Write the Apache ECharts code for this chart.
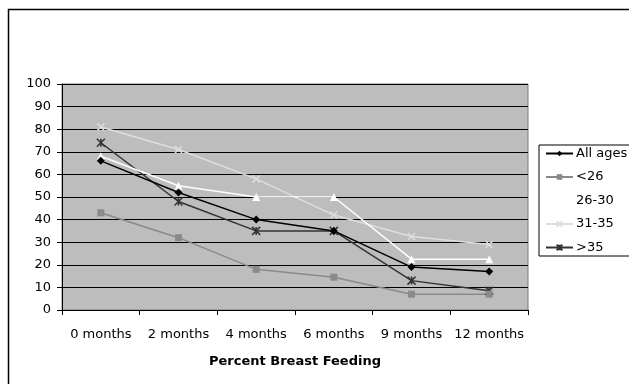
<!DOCTYPE html>
<html>
<head>
<meta charset="utf-8">
<script src="https://cdn.jsdelivr.net/npm/echarts@6/dist/echarts.min.js"></script>
<style>
  html, body { margin: 0; padding: 0; background: #fff; }
  #chart { width: 629px; height: 384px; }
</style>
</head>
<body>
<div id="chart"></div>
<script>
// data
var months = ['0 months', '2 months', '4 months', '6 months', '9 months', '12 months'];
var allAges = [66, 52, 40, 35, 19, 17];
var under26 = [43, 32, 18, 14.5, 7, 7];
var age26to30 = [68, 55, 50, 50, 22.5, 22.5];
var age31to35 = [81, 71, 58, 42, 32.5, 29];
var over35 = [74, 48, 35, 35, 13, 8.5];
var yTicks = { min: 0, max: 100, step: 10 };

var font = 'DejaVu Sans';

function mkSeries(name, data, symbol, size, color, width) {
  return {
    name: name,
    type: 'line',
    data: data,
    symbol: symbol,
    symbolSize: size,
    lineStyle: { color: color, width: width },
    itemStyle: { color: color, borderColor: color, borderWidth: symbol.indexOf('path://') === 0 ? 1.5 : 0 },
    emphasis: { disabled: true },
    animation: false
  };
}

var chart = echarts.init(document.getElementById('chart'));

var option = {
  backgroundColor: '#ffffff',
  animation: false,
  grid: {
    left: 62,
    right: 101,
    top: 84,
    bottom: 74,
    show: true,
    backgroundColor: '#bdbdbd',
    borderColor: '#7a7a7a',
    borderWidth: 1
  },
  legend: {
    orient: 'vertical',
    left: 539,
    top: 145,
    padding: [2, 4, 2, 6],
    itemGap: 10.5,
    itemWidth: 27,
    itemHeight: 7,
    borderColor: '#000',
    borderWidth: 1,
    backgroundColor: '#fff',
    textStyle: { fontFamily: font, fontSize: 13, color: '#000', padding: [0, 0, 0, -2] },
    data: ['All ages', '<26', '26-30', '31-35', '>35']
  },
  xAxis: {
    type: 'category',
    data: months,
    boundaryGap: true,
    axisLine: { lineStyle: { color: '#000', width: 1 } },
    axisTick: { show: true, length: 5, lineStyle: { color: '#000' } },
    axisLabel: { fontFamily: font, fontSize: 13, color: '#000', margin: 18, interval: 0 },
    splitLine: { show: false }
  },
  yAxis: {
    type: 'value',
    min: yTicks.min,
    max: yTicks.max,
    interval: yTicks.step,
    axisLine: { show: true, lineStyle: { color: '#000', width: 1 } },
    axisTick: { show: true, length: 5, lineStyle: { color: '#000' } },
    axisLabel: { fontFamily: font, fontSize: 13, color: '#000', margin: 11 },
    splitLine: { show: true, lineStyle: { color: '#000', width: 1 } }
  },
  graphic: [
    // outer frame, only top/left are visible in the picture
    {
      type: 'rect',
      shape: { x: 8.5, y: 9.5, width: 800, height: 600 },
      style: { fill: 'none', stroke: '#000', lineWidth: 1.5 },
      silent: true
    },
    {
      type: 'text',
      style: {
        text: 'Percent Breast Feeding',
        x: 295,
        y: 362,
        align: 'center',
        verticalAlign: 'middle',
        font: 'bold 13px "DejaVu Sans"',
        fill: '#000'
      },
      silent: true
    }
  ],
  series: [
    mkSeries('>35', over35, 'path://M0,0L10,10M10,0L0,10M5,0L5,10', 8, '#333333', 1.5),
    mkSeries('31-35', age31to35, 'path://M0,0L10,10M10,0L0,10', 7, '#dedede', 1.5),
    mkSeries('<26', under26, 'rect', 7, '#8a8a8a', 1.5),
    mkSeries('26-30', age26to30, 'triangle', 8, '#ffffff', 1.5),
    mkSeries('All ages', allAges, 'diamond', 8, '#000000', 1.5)
  ]
};

chart.setOption(option);
</script>
</body>
</html>
